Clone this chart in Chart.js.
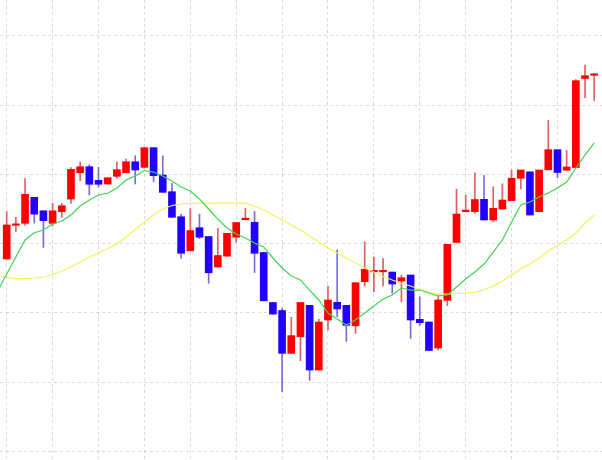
<!DOCTYPE html>
<html>
<head>
<meta charset="utf-8">
<script src="https://cdn.jsdelivr.net/npm/chart.js@4"></script>
<style>
  html, body { margin: 0; padding: 0; background: #fff; }
  #wrap { width: 602px; height: 460px; }
</style>
</head>
<body>
<div id="wrap"><canvas id="chart"></canvas></div>
<script>
// Свечи (open / high / low / close), 65 периодов
const opens = [127.77,132.64,132.93,136.69,134.74,132.93,134.61,136.44,140.24,141.11,
  139.14,138.61,139.72,140.24,141.83,141.02,143.86,139.91,137.50,133.88,
  128.96,132.30,131.02,126.62,128.18,130.92,133.45,133.08,128.71,121.49,
  120.33,114.14,116.54,121.08,111.73,118.96,121.51,121.08,118.12,124.49,
  125.92,125.92,125.89,124.59,125.46,119.06,118.67,114.91,121.80,130.16,
  134.62,134.61,136.40,133.41,135.00,136.20,139.43,140.37,134.61,140.66,
  143.57,140.60,140.99,153.86,154.32];
const highs = [134.61,133.80,139.38,136.69,134.74,135.82,135.82,140.97,141.79,141.40,
  141.02,139.52,141.83,142.22,142.70,143.86,143.86,142.66,138.71,134.23,
  135.07,134.25,131.02,132.21,131.49,133.05,135.07,134.67,128.71,121.49,
  120.65,119.35,121.49,121.08,119.06,123.83,129.07,121.08,124.35,130.27,
  128.06,127.82,125.89,125.43,125.46,122.32,118.67,122.57,129.90,137.86,
  137.02,140.24,139.88,138.22,138.65,140.63,140.63,140.37,140.63,147.79,
  143.57,143.45,153.71,155.81,154.58];
const lows = [127.77,131.67,132.61,132.97,129.46,132.54,133.80,135.82,139.09,137.02,
  138.18,138.61,139.43,140.24,138.61,141.02,138.94,137.41,133.80,127.87,
  128.96,130.73,124.26,126.62,128.18,130.20,133.45,125.82,121.73,119.81,
  108.60,114.14,113.08,110.24,111.73,117.51,119.43,115.88,117.03,123.87,
  123.05,123.87,122.81,121.56,116.31,118.16,114.55,114.62,121.05,130.16,
  134.62,134.35,133.41,133.12,135.00,136.20,137.89,134.13,134.61,140.66,
  139.51,140.60,140.99,151.08,150.63];
const closes = [132.69,132.66,137.12,134.25,133.31,134.74,135.47,140.73,141.11,138.57,
  138.57,139.52,140.68,141.83,140.63,143.86,139.81,137.41,133.80,128.60,
  131.89,130.92,125.78,128.28,131.49,133.05,133.47,128.60,121.73,119.81,
  114.14,116.70,121.49,111.73,118.67,121.85,120.55,118.19,124.35,126.28,
  125.94,125.94,124.16,125.07,118.96,118.57,114.55,121.85,129.90,134.27,
  134.64,136.37,133.41,135.10,136.30,139.45,140.63,134.13,140.63,143.57,
  140.27,141.07,153.54,154.26,154.34];

// Скользящие средние, начиная с периода -1
const maStart = -1;
const maFast = [123.15,125.60,128.06,130.52,131.57,131.96,132.83,133.26,134.13,135.43,136.30,
  137.02,137.27,138.03,139.19,139.77,140.56,140.34,139.77,139.04,138.18,
  137.60,136.45,135.00,133.55,132.25,131.38,130.81,130.08,129.51,127.92,
  126.47,125.32,124.74,123.29,121.85,119.97,119.10,118.23,118.96,119.97,
  120.98,121.99,122.57,123.58,123.29,123.29,122.86,122.43,122.57,123.73,
  124.88,125.89,127.05,128.78,130.52,133.12,135.58,136.01,136.73,137.31,
  138.03,138.90,140.92,142.80,144.54];
const maSlow = [125.24,125.10,124.95,124.95,125.03,125.17,125.53,126.04,126.62,127.34,128.06,
  128.64,129.29,129.94,130.95,132.03,133.12,134.13,135.00,135.50,135.72,
  135.82,135.86,135.86,135.86,135.86,135.86,135.86,135.43,134.85,134.13,
  133.41,132.69,131.96,131.10,130.23,129.36,128.64,127.92,127.19,126.47,
  125.89,125.24,124.74,124.23,123.87,123.36,123.00,122.71,122.71,122.79,
  122.86,123.00,123.29,123.87,124.59,125.46,126.33,127.05,127.92,128.93,
  129.72,130.52,131.53,132.97,134.13];

const UP = '#ff0000';
const DOWN = '#2200ff';

function isUp(i) {
  return closes[i] >= opens[i];
}

function buildCandles() {
  const bodies = [];
  const wicks = [];
  for (let i = 0; i < opens.length; i++) {
    bodies.push({ x: i, y: [opens[i], closes[i]] });
    wicks.push({ x: i, y: [lows[i], highs[i]] });
  }
  return { bodies, wicks };
}

function buildLine(values) {
  return values.map((v, k) => ({ x: maStart + k, y: v }));
}

function createChart() {
  const { bodies, wicks } = buildCandles();
  const ctx = document.getElementById('chart').getContext('2d');
  const gridStyle = {
    color: 'rgba(0, 0, 0, 0.14)',
    lineWidth: 1,
    drawTicks: false
  };
  new Chart(ctx, {
    type: 'bar',
    data: {
      datasets: [
        {
          type: 'line',
          data: buildLine(maFast),
          borderColor: '#3fd454',
          borderWidth: 1.2,
          pointRadius: 0,
          tension: 0,
          order: 0
        },
        {
          type: 'line',
          data: buildLine(maSlow),
          borderColor: '#f2f25a',
          borderWidth: 1.2,
          pointRadius: 0,
          tension: 0,
          order: 0
        },
        {
          data: bodies,
          grouped: false,
          barThickness: 7,
          minBarLength: 1.5,
          backgroundColor: c => isUp(c.dataIndex) ? UP : DOWN,
          borderWidth: 0,
          order: 1
        },
        {
          data: wicks,
          grouped: false,
          barThickness: 1,
          backgroundColor: c => isUp(c.dataIndex) ? 'rgba(215, 70, 70, 0.85)' : 'rgba(95, 85, 215, 0.85)',
          borderWidth: 0,
          order: 2
        }
      ]
    },
    options: {
      responsive: true,
      maintainAspectRatio: false,
      animation: false,
      layout: { padding: 0 },
      plugins: {
        legend: { display: false },
        tooltip: { enabled: false }
      },
      scales: {
        x: {
          type: 'linear',
          offset: false,
          min: -0.73,
          max: 64.85,
          ticks: { display: false, stepSize: 5, includeBounds: false },
          grid: { ...gridStyle, offset: false },
          border: { display: false, dash: [3, 3] }
        },
        y: {
          min: 98.73,
          max: 165.2,
          ticks: { display: false, stepSize: 10, includeBounds: false },
          grid: gridStyle,
          border: { display: false, dash: [3, 3] }
        }
      }
    }
  });
}

window.addEventListener('load', createChart);
</script>
</body>
</html>
